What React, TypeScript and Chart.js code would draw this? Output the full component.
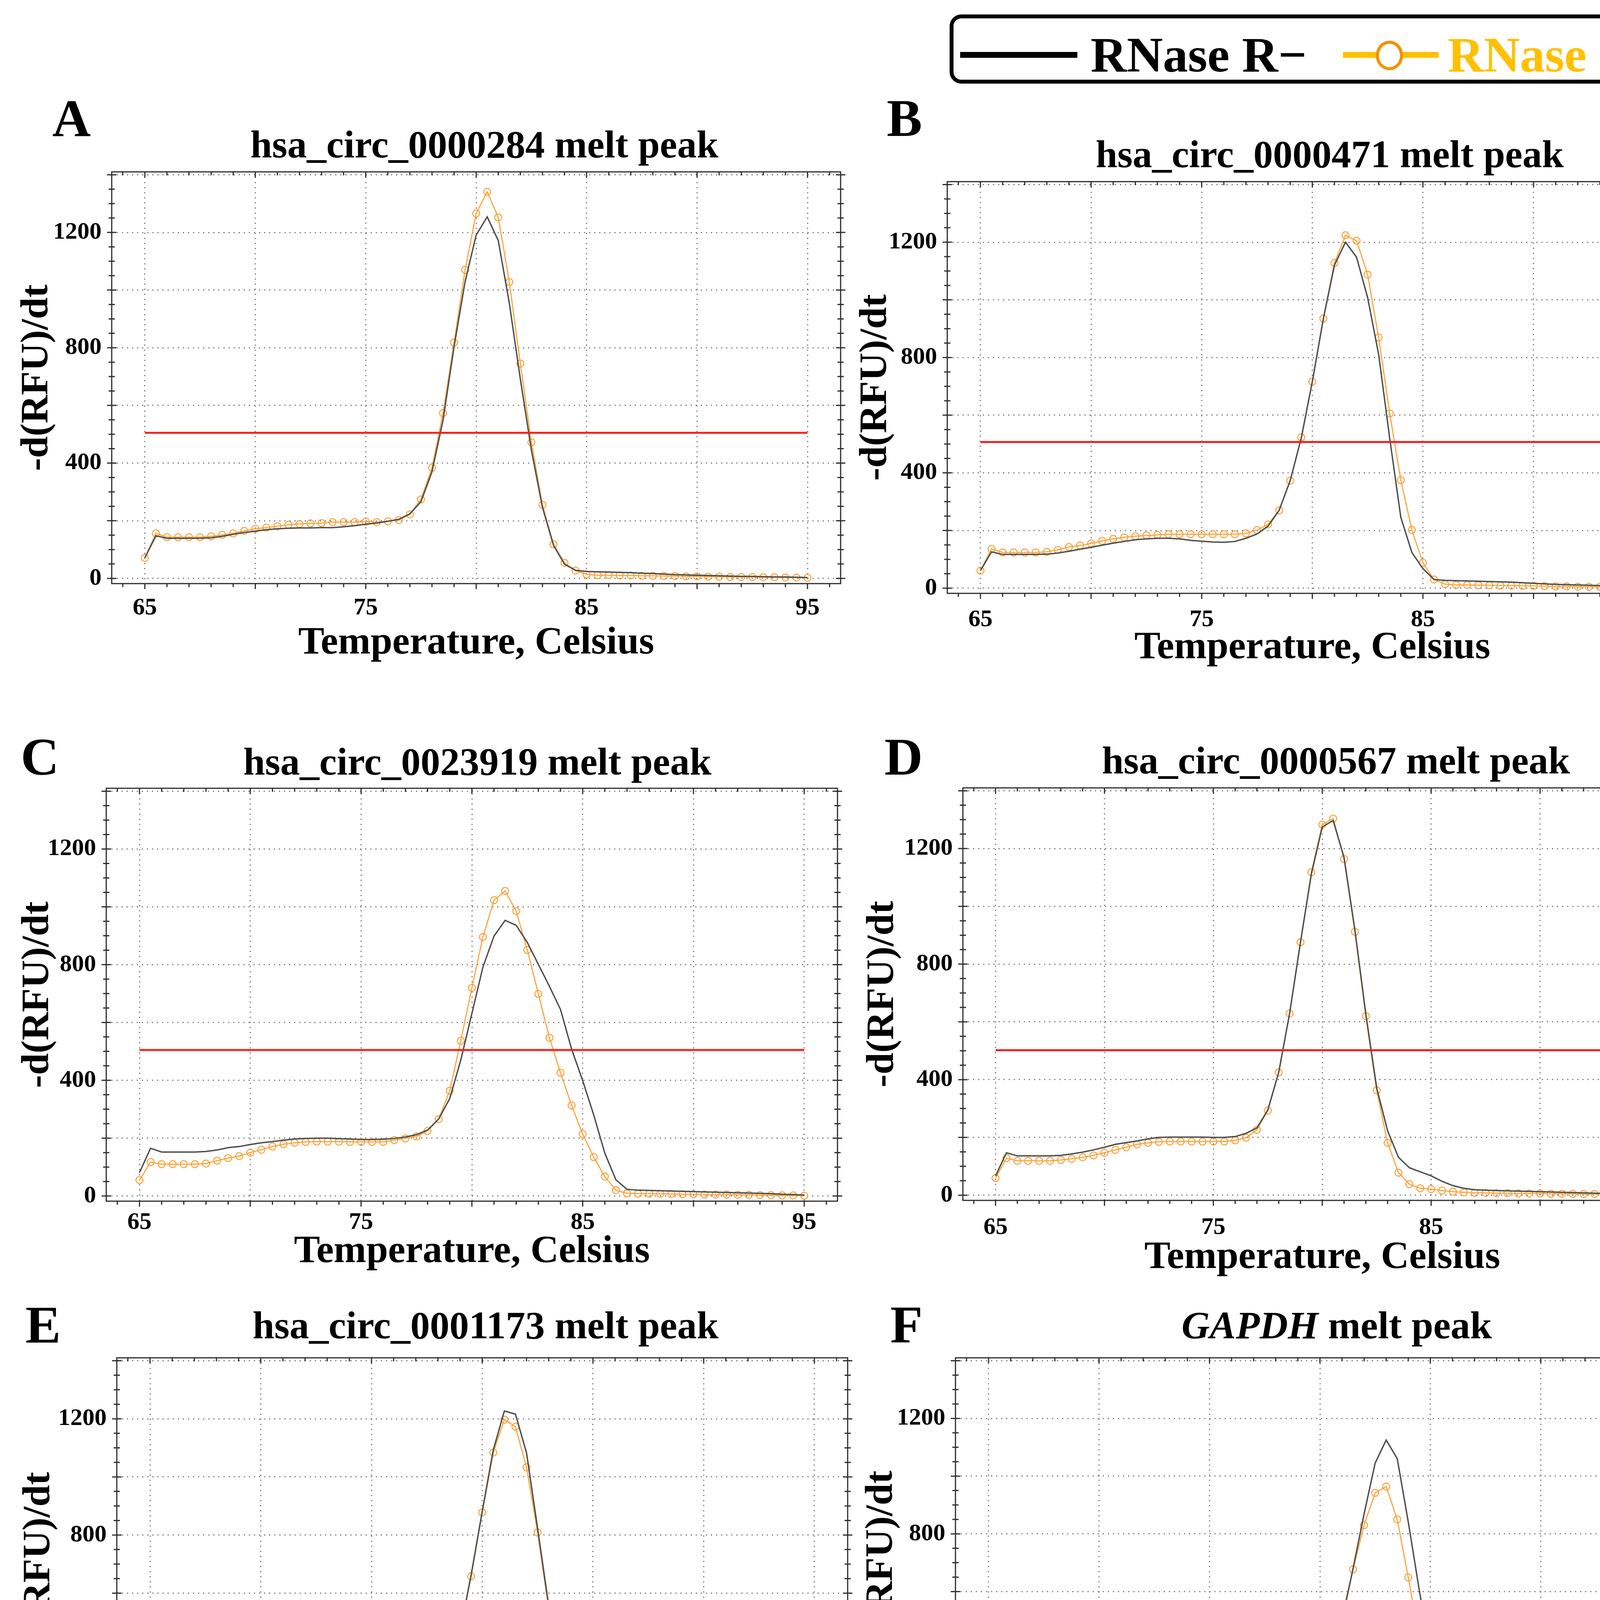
import { useEffect, useRef } from 'react';
import { Chart, registerables } from 'chart.js';

Chart.register(...registerables);

const FONT = '"Liberation Serif", "Times New Roman", serif';

// temperature steps (Celsius)
const TEMPS = [
	65, 65.5, 66, 66.5, 67, 67.5, 68, 68.5, 69, 69.5,
	70, 70.5, 71, 71.5, 72, 72.5, 73, 73.5, 74, 74.5,
	75, 75.5, 76, 76.5, 77, 77.5, 78, 78.5, 79, 79.5,
	80, 80.5, 81, 81.5, 82, 82.5, 83, 83.5, 84, 84.5,
	85, 85.5, 86, 86.5, 87, 87.5, 88, 88.5, 89, 89.5,
	90, 90.5, 91, 91.5, 92, 92.5, 93, 93.5, 94, 94.5, 95
];

// axis grid values and the ones that carry a label
const X_GRID = [65, 70, 75, 80, 85, 90, 95];
const X_LABELS = [65, 75, 85, 95];
const Y_GRID = [0, 200, 400, 600, 800, 1000, 1200, 1400];
const Y_LABELS = [0, 400, 800, 1200];

// -d(RFU)/dt, RNase R- (black) and RNase R+ (orange)
const A_MINUS = [
	71, 148, 139, 139, 139, 139, 141, 146, 153, 159,
	164, 169, 172, 174, 175, 175, 176, 176, 179, 183,
	188, 192, 198, 205, 224, 266, 370, 549, 804, 1030,
	1191, 1254, 1172, 955, 691, 445, 247, 115, 49, 28,
	24, 23, 22, 21, 20, 18, 17, 15, 13, 12,
	11, 10, 9, 8, 7, 7, 6, 5, 5, 4, 3
];
const A_PLUS = [
	71, 156, 143, 143, 143, 143, 146, 151, 156, 165,
	172, 176, 181, 186, 189, 191, 192, 195, 195, 195,
	197, 195, 198, 202, 222, 274, 384, 573, 818, 1070,
	1266, 1341, 1252, 1028, 745, 472, 255, 118, 54, 27,
	14, 11, 11, 10, 10, 9, 9, 8, 8, 7,
	7, 6, 6, 5, 5, 5, 4, 4, 3, 3, 2
];
const B_MINUS = [
	61, 126, 117, 117, 117, 117, 118, 122, 128, 135,
	142, 149, 156, 162, 168, 171, 173, 173, 171, 166,
	163, 160, 159, 162, 173, 188, 215, 270, 373, 520,
	716, 935, 1120, 1200, 1148, 1008, 810, 519, 246, 124,
	68, 30, 27, 26, 25, 24, 23, 22, 21, 19,
	17, 15, 13, 12, 11, 10, 9, 8, 7, 6, 3
];
const B_PLUS = [
	61, 136, 124, 124, 124, 124, 126, 133, 143, 148,
	155, 164, 171, 176, 180, 183, 185, 187, 187, 187,
	187, 187, 187, 187, 190, 201, 221, 270, 373, 523,
	716, 935, 1128, 1224, 1205, 1088, 869, 606, 375, 202,
	88, 30, 14, 11, 11, 10, 10, 9, 9, 8,
	8, 7, 6, 6, 5, 5, 5, 4, 4, 3, 2
];
const C_MINUS = [
	81, 165, 152, 152, 152, 152, 154, 159, 167, 171,
	178, 184, 188, 193, 197, 199, 200, 200, 198, 197,
	195, 195, 196, 199, 204, 212, 228, 266, 337, 470,
	631, 792, 899, 953, 936, 877, 801, 725, 645, 508,
	399, 280, 148, 56, 23, 20, 19, 18, 17, 16,
	15, 14, 13, 12, 11, 10, 9, 8, 6, 5, 3
];
const C_PLUS = [
	55, 117, 110, 110, 110, 110, 112, 122, 131, 138,
	150, 160, 171, 179, 184, 187, 188, 188, 188, 187,
	187, 187, 187, 193, 199, 206, 225, 266, 364, 537,
	720, 896, 1023, 1055, 985, 851, 699, 547, 426, 313,
	214, 134, 67, 20, 9, 8, 8, 7, 7, 6,
	6, 5, 5, 5, 4, 4, 3, 3, 2, 2, 1
];
const D_MINUS = [
	67, 147, 136, 136, 136, 136, 138, 143, 149, 157,
	166, 176, 182, 188, 195, 200, 201, 201, 201, 201,
	200, 200, 203, 214, 233, 295, 425, 629, 876, 1112,
	1275, 1297, 1169, 917, 627, 371, 223, 131, 95, 81,
	67, 48, 33, 24, 19, 17, 16, 15, 14, 13,
	12, 11, 10, 9, 8, 7, 6, 5, 4, 3, 1
];
const D_PLUS = [
	59, 128, 119, 119, 119, 119, 122, 126, 131, 138,
	147, 157, 166, 176, 181, 185, 186, 186, 186, 186,
	186, 186, 190, 199, 226, 293, 425, 629, 876, 1118,
	1283, 1304, 1164, 912, 620, 363, 181, 78, 38, 24,
	21, 16, 12, 10, 8, 8, 7, 7, 6, 6,
	6, 5, 5, 5, 4, 4, 4, 3, 3, 3, 2
];
const E_MINUS = [
	69, 160, 148, 148, 148, 148, 148, 152, 160, 167,
	174, 181, 186, 191, 195, 197, 198, 198, 198, 196,
	195, 195, 196, 200, 207, 217, 245, 322, 469, 663,
	881, 1093, 1227, 1216, 1083, 823, 558, 332, 171, 76,
	34, 25, 24, 23, 22, 21, 20, 19, 17, 16,
	15, 14, 13, 12, 11, 10, 9, 8, 7, 5, 3
];
const E_PLUS = [
	60, 129, 121, 121, 121, 121, 124, 129, 131, 138,
	145, 152, 160, 166, 173, 179, 181, 183, 183, 183,
	183, 183, 183, 185, 190, 204, 237, 320, 466, 658,
	878, 1084, 1197, 1173, 1033, 809, 547, 316, 157, 65,
	20, 6, 5, 5, 5, 5, 4, 4, 4, 4,
	4, 4, 4, 3, 3, 3, 3, 3, 4, 8, 5
];
const F_MINUS = [
	59, 152, 141, 141, 141, 141, 143, 149, 156, 163,
	173, 182, 190, 196, 199, 201, 201, 198, 196, 196,
	198, 200, 203, 206, 208, 210, 213, 217, 225, 231,
	262, 333, 499, 680, 869, 1045, 1125, 1061, 841, 604,
	386, 178, 81, 40, 30, 28, 26, 24, 22, 20,
	18, 16, 14, 12, 11, 10, 9, 8, 6, 5, 3
];
const F_PLUS = [
	51, 111, 101, 101, 101, 101, 104, 111, 118, 127,
	139, 149, 158, 166, 173, 175, 175, 175, 175, 175,
	174, 173, 174, 175, 180, 185, 196, 213, 232, 258,
	302, 378, 514, 677, 830, 942, 964, 850, 649, 433,
	242, 103, 37, 18, 16, 15, 14, 13, 12, 11,
	10, 9, 8, 8, 7, 6, 6, 5, 5, 4, 3
];

// red threshold line per panel, drawn from 65 to 95
const THRESHOLD = [505, 507, 505, 502, 506, 506];
const THRESHOLD_SPAN = [65, 95];

const PANEL_LETTERS = ['A', 'B', 'C', 'D', 'E', 'F'];
const TARGETS = [
	'hsa_circ_0000284',
	'hsa_circ_0000471',
	'hsa_circ_0023919',
	'hsa_circ_0000567',
	'hsa_circ_0001173',
	'GAPDH'
];
const SERIES_MINUS = [A_MINUS, B_MINUS, C_MINUS, D_MINUS, E_MINUS, F_MINUS];
const SERIES_PLUS = [A_PLUS, B_PLUS, C_PLUS, D_PLUS, E_PLUS, F_PLUS];

const LEGEND_MINUS = 'RNase R\u2212';
const LEGEND_PLUS = 'RNase R+';

// page layout (px): plot box, title centre, letter top-left, axis offsets
const LAYOUT = [
	{ plot: [286, 440, 2152, 1494], title: [1240, 370], letter: [134, 235], tickGap: 63, xTitleGap: 153, yTitleGap: 191 },
	{ plot: [2425, 465, 4294, 1519], title: [3404, 395], letter: [2270, 234], tickGap: 68, xTitleGap: 140, yTitleGap: 183 },
	{ plot: [272, 2018, 2144, 3075], title: [1222, 1950], letter: [53, 1869], tickGap: 55, xTitleGap: 130, yTitleGap: 175 },
	{ plot: [2465, 2017, 4305, 3073], title: [3420, 1947], letter: [2264, 1869], tickGap: 70, xTitleGap: 147, yTitleGap: 205 },
	{ plot: [299, 3476, 2170, 4538], title: [1243, 3393], letter: [65, 3323], tickGap: 50, xTitleGap: 135, yTitleGap: 199 },
	{ plot: [2446, 3476, 4312, 4531], title: [3422, 3393], letter: [2279, 3323], tickGap: 55, xTitleGap: 141, yTitleGap: 189 }
];

const Y_AXIS_W = 270;
const TOP_PAD = 70;
const RIGHT_PAD = 20;
const TICK_FONT = 62;
const AXIS_TITLE_FONT = 100;

// box frame with small tick marks on all four sides
const frameTicks = {
	id: 'frameTicks',
	afterDraw(chart: any) {
		const { ctx, chartArea: a, scales } = chart;
		const xs = scales.x;
		const ys = scales.y;
		ctx.save();
		ctx.strokeStyle = '#2b2b2b';
		ctx.lineWidth = 3;
		ctx.strokeRect(a.left, a.top, a.right - a.left, a.bottom - a.top);
		ctx.beginPath();
		for (let v = Math.ceil(ys.min / 50) * 50; v <= ys.max; v += 50) {
			const p = ys.getPixelForValue(v);
			const len = v % 200 === 0 ? 12 : 8;
			ctx.moveTo(a.left - len, p);
			ctx.lineTo(a.left + len, p);
			ctx.moveTo(a.right - len, p);
			ctx.lineTo(a.right + len, p);
		}
		for (let v = Math.ceil(xs.min); v <= xs.max; v += 1) {
			const p = xs.getPixelForValue(v);
			const len = v % 5 === 0 ? 14 : 9;
			ctx.moveTo(p, a.bottom);
			ctx.lineTo(p, a.bottom + len);
			ctx.moveTo(p, a.top);
			ctx.lineTo(p, a.top + len);
		}
		ctx.stroke();
		ctx.restore();
	}
};

function MeltPanel({ index }: { index: number }) {
	const canvasRef = useRef<HTMLCanvasElement | null>(null);
	const chartRef = useRef<Chart | null>(null);
	const lay = LAYOUT[index];
	const [pl, pt, pr, pb] = lay.plot;
	const xAxisH = lay.xTitleGap + (AXIS_TITLE_FONT * 1.2) / 2;
	const left = pl - Y_AXIS_W;
	const top = pt - TOP_PAD;
	const width = pr - pl + Y_AXIS_W + RIGHT_PAD;
	const height = pb - pt + TOP_PAD + xAxisH;

	useEffect(() => {
		if (!canvasRef.current) return;
		if (chartRef.current) chartRef.current.destroy();

		const minus = SERIES_MINUS[index].map((y, i) => ({ x: TEMPS[i], y }));
		const plus = SERIES_PLUS[index].map((y, i) => ({ x: TEMPS[i], y }));
		const thr = THRESHOLD_SPAN.map((x) => ({ x, y: THRESHOLD[index] }));

		const tickFont = { family: FONT, size: TICK_FONT, weight: 'bold' as const };
		const titleFont = { family: FONT, size: AXIS_TITLE_FONT, weight: 'bold' as const };
		const grid = { color: '#7c7c7c', lineWidth: 3, drawTicks: false };
		const border = { display: false, dash: [3, 10] };

		chartRef.current = new Chart(canvasRef.current, {
			type: 'line',
			data: {
				datasets: [
					{
						label: 'threshold',
						data: thr,
						borderColor: '#ff1a1a',
						borderWidth: 5,
						pointRadius: 0,
						order: -1
					},
					{
						label: LEGEND_MINUS,
						data: minus,
						borderColor: '#4d4d4d',
						borderWidth: 3.5,
						pointRadius: 0,
						order: 0
					},
					{
						label: LEGEND_PLUS,
						data: plus,
						borderColor: '#ffa640',
						borderWidth: 3,
						pointRadius: 9,
						pointBorderWidth: 2.5,
						pointBorderColor: '#ff9e33',
						pointBackgroundColor: 'rgba(255,255,255,0)',
						order: 1
					}
				]
			},
			options: {
				animation: false,
				responsive: true,
				maintainAspectRatio: false,
				layout: { padding: { top: TOP_PAD, right: RIGHT_PAD, bottom: 0, left: 0 } },
				elements: { line: { tension: 0 } },
				plugins: {
					legend: { display: false },
					tooltip: { enabled: false },
					title: { display: false }
				},
				scales: {
					x: {
						type: 'linear',
						min: 63.5,
						max: 96.5,
						grid,
						border,
						afterBuildTicks: (s: any) => {
							s.ticks = X_GRID.map((value) => ({ value }));
						},
						ticks: {
							autoSkip: false,
							maxRotation: 0,
							padding: lay.tickGap - (TICK_FONT * 1.2) / 2,
							color: '#000',
							font: tickFont,
							callback: (v: any) => (X_LABELS.includes(Number(v)) ? String(v) : '')
						},
						title: {
							display: true,
							text: 'Temperature, Celsius',
							color: '#000',
							font: titleFont,
							padding: { top: 0, bottom: 0 }
						},
						afterFit: (s: any) => {
							s.height = xAxisH;
						}
					},
					y: {
						type: 'linear',
						min: -18,
						max: 1410,
						grid,
						border,
						afterBuildTicks: (s: any) => {
							s.ticks = Y_GRID.map((value) => ({ value }));
						},
						ticks: {
							autoSkip: false,
							padding: 26,
							color: '#000',
							font: tickFont,
							callback: (v: any) => (Y_LABELS.includes(Number(v)) ? String(v) : '')
						},
						title: {
							display: true,
							text: '-d(RFU)/dt',
							color: '#000',
							font: titleFont,
							padding: { top: Y_AXIS_W - lay.yTitleGap - (AXIS_TITLE_FONT * 1.2) / 2, bottom: 0 }
						},
						afterFit: (s: any) => {
							s.width = Y_AXIS_W;
						}
					}
				}
			},
			plugins: [frameTicks]
		});

		return () => {
			chartRef.current?.destroy();
			chartRef.current = null;
		};
	}, [index]);

	const target = TARGETS[index];
	const italic = target === 'GAPDH';

	return (
		<>
			<div style={{ position: 'absolute', left, top, width, height }}>
				<canvas ref={canvasRef} />
			</div>
			<div
				style={{
					position: 'absolute',
					left: lay.letter[0],
					top: lay.letter[1],
					fontFamily: FONT,
					fontWeight: 'bold',
					fontSize: 136,
					lineHeight: '136px',
					color: '#000'
				}}
			>
				{PANEL_LETTERS[index]}
			</div>
			<div
				style={{
					position: 'absolute',
					left: lay.title[0] - 1000,
					top: lay.title[1] - 50,
					width: 2000,
					textAlign: 'center',
					fontFamily: FONT,
					fontWeight: 'bold',
					fontSize: 100,
					lineHeight: '100px',
					color: '#000',
					whiteSpace: 'nowrap'
				}}
			>
				{italic ? <i>{target}</i> : target} melt peak
			</div>
		</>
	);
}

function LegendBox() {
	const text = {
		position: 'absolute' as const,
		top: 76,
		fontFamily: FONT,
		fontWeight: 'bold' as const,
		fontSize: 128,
		lineHeight: '128px',
		whiteSpace: 'nowrap' as const
	};
	return (
		<>
			<div
				style={{
					position: 'absolute',
					left: 2431,
					top: 37,
					width: 1897,
					height: 177,
					border: '10px solid #000',
					borderRadius: 30,
					boxSizing: 'border-box',
					background: '#fff'
				}}
			/>
			<div style={{ position: 'absolute', left: 2458, top: 133, width: 300, height: 15, background: '#000' }} />
			<div style={{ ...text, left: 2792, color: '#000' }}>{LEGEND_MINUS}</div>
			<div style={{ position: 'absolute', left: 3438, top: 133, width: 245, height: 15, background: '#ffc000' }} />
			<div
				style={{
					position: 'absolute',
					left: 3522,
					top: 104,
					width: 70,
					height: 76,
					borderRadius: '50%',
					border: '8px solid #f39200',
					boxSizing: 'border-box',
					background: '#fff'
				}}
			/>
			<div style={{ ...text, left: 3706, color: '#ffc000' }}>{LEGEND_PLUS}</div>
		</>
	);
}

export default function App() {
	useEffect(() => {
		document.body.style.margin = '0';
	}, []);

	return (
		<div
			style={{
				position: 'absolute',
				left: 0,
				top: 0,
				width: 4375,
				height: 4773,
				background: '#fff',
				overflow: 'hidden'
			}}
		>
			<LegendBox />
			{PANEL_LETTERS.map((_, i) => (
				<MeltPanel key={i} index={i} />
			))}
		</div>
	);
}
